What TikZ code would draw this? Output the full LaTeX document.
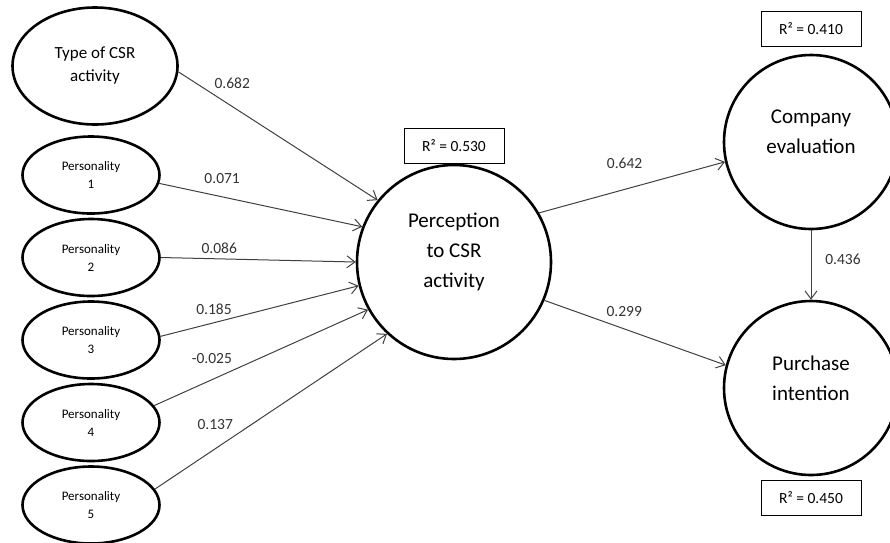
\documentclass[tikz,border=0pt]{standalone}
\usepackage{fontspec}
\setmainfont{Carlito}
\usetikzlibrary{positioning,shapes.geometric,arrows.meta}

\begin{document}
\begin{tikzpicture}[x=1pt,y=-1pt,on grid,
   latent/.style={ellipse, draw, line width=2.6pt, align=center, inner sep=0pt},
   pers/.style={latent, minimum width=137pt, minimum height=77pt, font=\fontsize{13}{18}\selectfont},
   construct/.style={circle, draw, line width=2.6pt, align=center, inner sep=0pt, text depth=20pt, font=\fontsize{21}{30}\selectfont},
   rsq/.style={draw, line width=0.9pt, minimum width=100pt, minimum height=35pt, font=\fontsize{15.5}{18}\selectfont},
   lbl/.style={inner sep=0pt, text=black!80, font=\fontsize{15.5}{18}\selectfont},
   link/.style={-{Straight Barb[length=8pt,width=12pt]}, line width=1pt, black!75}]
   \useasboundingbox (0,0) rectangle (890,542);

   \node[latent, minimum width=165pt, minimum height=117pt, font=\fontsize{17}{23}\selectfont] (type) at (95,66) {Type of CSR\\activity};
   \node[pers] (p1) at (91,175) {Personality\\1};
   \node[pers] (p2) [below=82.5pt of p1] {Personality\\2};
   \node[pers] (p3) [below=82.5pt of p2] {Personality\\3};
   \node[pers] (p4) [below=82.5pt of p3] {Personality\\4};
   \node[pers] (p5) [below=82.5pt of p4] {Personality\\5};

   \node[construct, minimum size=194pt, text depth=24pt] (perc) at (454,262) {Perception\\to CSR\\activity};
   \node[rsq] (r530) [above=116pt of perc] {R² = 0.530};

   \node[construct, minimum size=174pt] (comp) at (811,142) {Company\\evaluation};
   \node[construct, minimum size=174pt] (purch) [below=246pt of comp] {Purchase\\intention};
   \node[rsq] (r410) [above=113pt of comp] {R² = 0.410};
   \node[rsq] (r450) [below=110pt of purch] {R² = 0.450};

   \path[link]
   (type.-4) edge node[lbl, pos=.27, yshift=23pt]   {0.682}  (perc.141)
   (p1.-7)   edge node[lbl, pos=.31, yshift=18pt]   {0.071}  (perc.159)
   (p2.0)    edge node[lbl, pos=.30, yshift=11pt]   {0.086}  (perc.180)
   (p3.3)    edge node[lbl, pos=.27, yshift=13.7pt] {0.185}  (perc.194)
   (p4.15)   edge node[lbl, pos=.27, yshift=21pt]   {-0.025} (perc.209)
   (p5.14)   edge node[lbl, pos=.26, yshift=24pt]   {0.137}  (perc.227)
   (perc.30) edge node[lbl, pos=.46, yshift=25.6pt] {0.642}  (comp.193)
   (perc.-23) edge node[lbl, pos=.44, yshift=17.6pt] {0.299} (purch.165)
   (comp)    edge node[lbl, pos=.42, xshift=32pt]   {0.436}  (purch);
\end{tikzpicture}
\end{document}
